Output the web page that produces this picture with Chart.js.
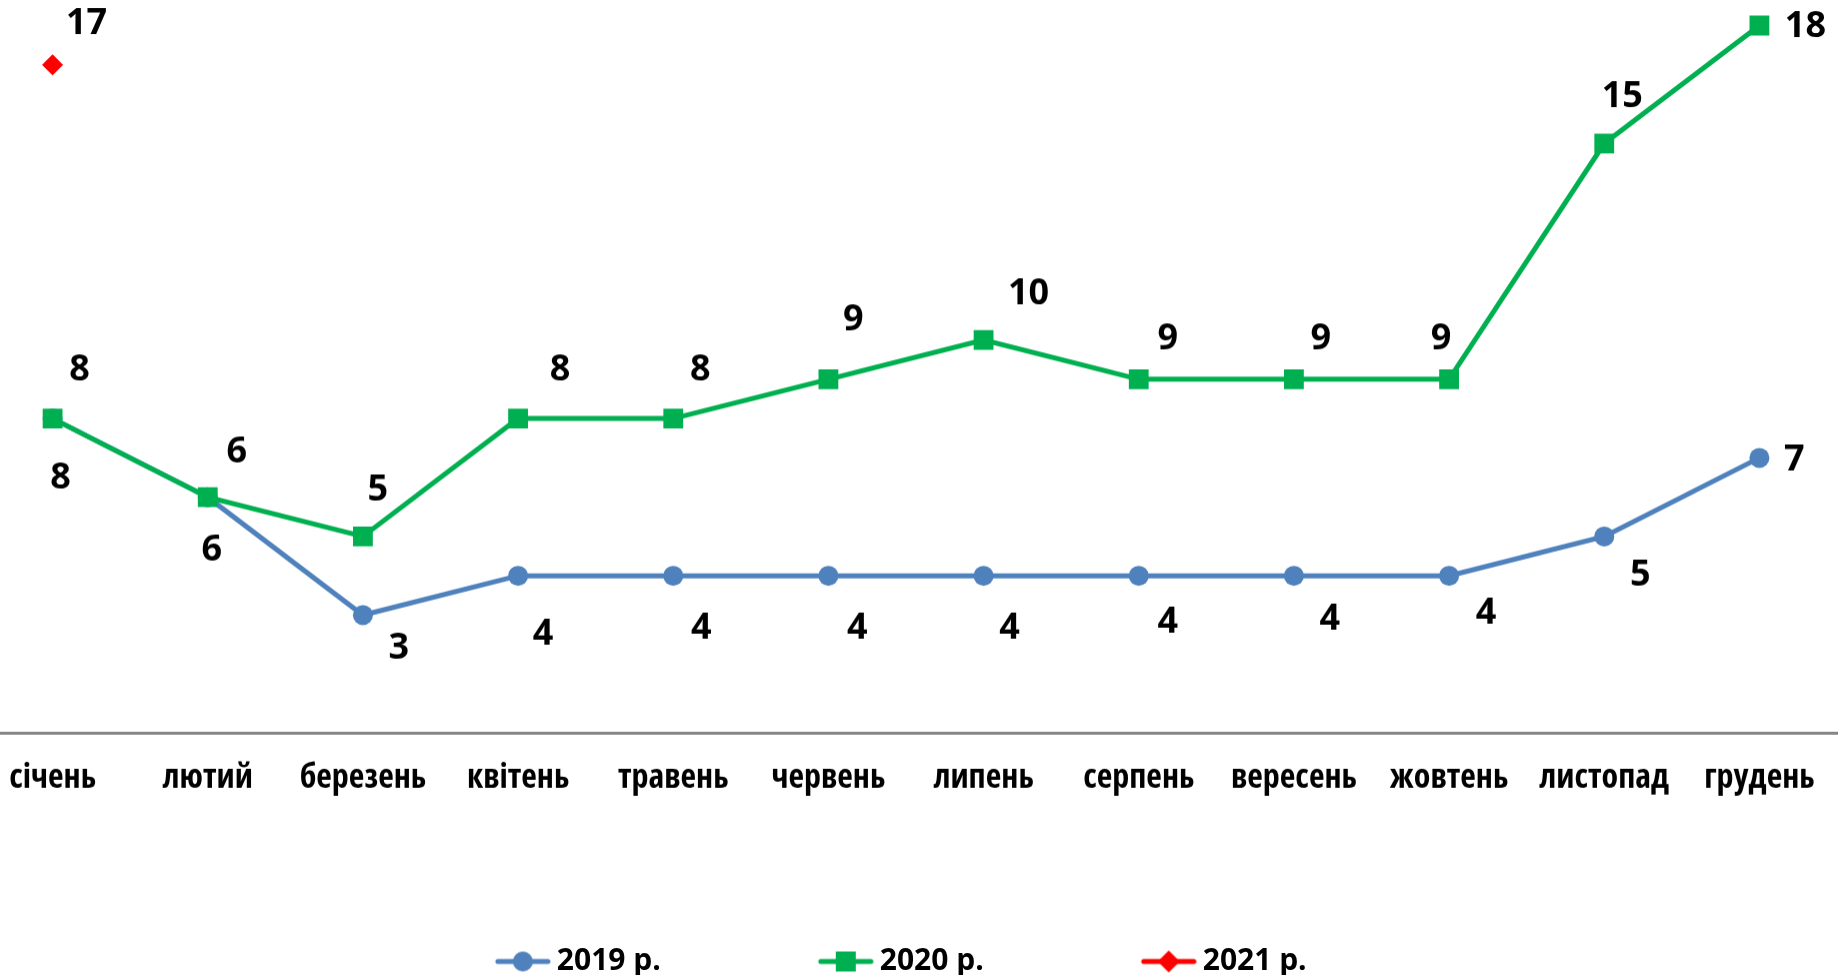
<!DOCTYPE html>
<html lang="uk">
<head>
<meta charset="UTF-8">
<title>Динаміка по місяцях</title>
<script src="https://cdn.jsdelivr.net/npm/chart.js"></script>
<style>
    html, body { margin: 0; padding: 0; overflow: hidden; background: #fff; }
    .wrap { position: absolute; left: -25px; top: 0; width: 1865px; height: 985.5px; }
</style>
</head>
<body>
<div class="wrap"><canvas id="chart"></canvas></div>
<script>
const months = ['січень', 'лютий', 'березень', 'квітень', 'травень', 'червень',
                'липень', 'серпень', 'вересень', 'жовтень', 'листопад', 'грудень'];
const values2019 = [8, 6, 3, 4, 4, 4, 4, 4, 4, 4, 5, 7];
const values2020 = [8, 6, 5, 8, 8, 9, 10, 9, 9, 9, 15, 18];
const values2021 = [17, null, null, null, null, null, null, null, null, null, null, null];
const seriesNames = ['2019 р.', '2020 р.', '2021 р.'];

const FONT = "'Open Sans', sans-serif";
const BLUE = '#4F81BD', GREEN = '#00B050', RED = '#FF0000';

// where each value label sits, relative to its point (px)
const shift2019 = [[8, 60], [4, 53], [36, 33], [25, 59], [28, 53], [29, 53],
                   [26, 53], [29, 47], [36, 44], [37, 38], [36, 39], [35, 2]];
const shift2020 = [[27, -48], [29, -45], [15, -46], [42, -48], [27, -48], [25, -59],
                   [45, -46], [29, -40], [27, -40], [-8, -40], [18, -47], [46, 1]];
const shift2021 = [[34, -41]];
const shifts = [shift2019, shift2020, shift2021];

const valueLabels = {
    id: 'valueLabels',
    afterDatasetsDraw(chart) {
        const ctx = chart.ctx;
        ctx.save();
        ctx.font = 'bold 36px ' + FONT;
        ctx.fillStyle = '#000';
        ctx.textAlign = 'center';
        ctx.textBaseline = 'middle';
        chart.data.datasets.forEach((ds, i) => {
            chart.getDatasetMeta(i).data.forEach((pt, j) => {
                const v = ds.data[j];
                if (v == null) return;
                const s = shifts[i][j] || [0, 0];
                ctx.fillText(String(v), pt.x + s[0], pt.y + s[1]);
            });
        });
        ctx.restore();
    }
};

// line+marker pictures for the legend (drawn in the right part of a wider image)
function legendIcon(color, shape) {
    const c = document.createElement('canvas');
    c.width = 77; c.height = 24;
    const g = c.getContext('2d');
    g.translate(21, 0);
    g.strokeStyle = color; g.fillStyle = color;
    g.lineWidth = 5; g.lineCap = 'round';
    g.beginPath(); g.moveTo(3, 12); g.lineTo(53, 12); g.stroke();
    g.beginPath();
    if (shape === 'circle') g.arc(28, 12, 10, 0, Math.PI * 2);
    else if (shape === 'rect') g.rect(18, 2, 20, 20);
    else { g.moveTo(28, 1); g.lineTo(39, 12); g.lineTo(28, 23); g.lineTo(17, 12); g.closePath(); }
    g.fill();
    return c;
}
const icons = [legendIcon(BLUE, 'circle'), legendIcon(GREEN, 'rect'), legendIcon(RED, 'diamond')];

new Chart(document.getElementById('chart'), {
    type: 'line',
    data: {
        labels: months,
        datasets: [
            { label: seriesNames[0], data: values2019, order: 1, borderColor: BLUE, backgroundColor: BLUE,
              borderWidth: 5, pointStyle: 'circle', pointRadius: 10, pointBorderWidth: 0 },
            { label: seriesNames[1], data: values2020, order: 0, borderColor: GREEN, backgroundColor: GREEN,
              borderWidth: 5, pointStyle: 'rect', pointRadius: 14, pointBorderWidth: 0 },
            { label: seriesNames[2], data: values2021, order: 2, borderColor: RED, backgroundColor: RED,
              borderWidth: 5, pointStyle: 'rectRot', pointRadius: 10.5, pointBorderWidth: 0 }
        ]
    },
    options: {
        responsive: true,
        maintainAspectRatio: false,
        animation: false,
        layout: { autoPadding: false, padding: { top: 0, right: 3, left: 0, bottom: 0 } },
        scales: {
            x: {
                offset: true,
                grid: { display: false, drawTicks: false },
                border: { display: true, color: '#868686', width: 3 },
                ticks: { color: '#000', font: { family: FONT, size: 34, weight: 'bold condensed' },
                         padding: 25, maxRotation: 0, autoSkip: false }
            },
            y: { display: false, min: 0, max: 18.65 }
        },
        plugins: {
            tooltip: { enabled: false },
            legend: {
                position: 'bottom',
                labels: {
                    usePointStyle: true,
                    pointStyleWidth: 59,
                    padding: 122.5,
                    color: '#000',
                    font: { family: FONT, size: 30, weight: 'bold' },
                    sort: (a, b) => a.datasetIndex - b.datasetIndex,
                    generateLabels(chart) {
                        const items = Chart.defaults.plugins.legend.labels.generateLabels(chart);
                        items.forEach(it => {
                            it.pointStyle = icons[it.datasetIndex];
                            it.lineWidth = 0;
                            it.text = it.text + '\u2002\u2005';
                        });
                        return items;
                    }
                }
            }
        }
    },
    plugins: [valueLabels]
});
</script>
</body>
</html>
